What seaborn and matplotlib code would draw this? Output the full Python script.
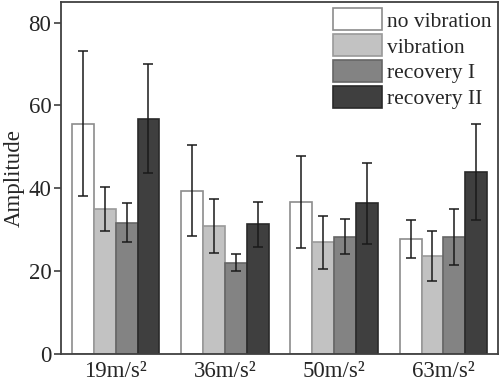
import matplotlib
matplotlib.use("Agg")
import matplotlib.pyplot as plt
import seaborn as sns
import numpy as np
import pandas as pd

accels = ['19m/s²', '36m/s²', '50m/s²', '63m/s²']
conditions = ['no vibration', 'vibration', 'recovery I', 'recovery II']

# mean amplitude per condition, one value per acceleration
no_vib = [55.6, 39.4, 36.6, 27.8]
vib = [35.0, 30.9, 27.0, 23.7]
rec1 = [31.7, 22.1, 28.3, 28.2]
rec2 = [56.8, 31.3, 36.4, 44.0]

# error bar half-lengths
no_vib_err = [17.5, 11.0, 11.1, 4.5]
vib_err = [5.3, 6.6, 6.4, 6.0]
rec1_err = [4.7, 2.0, 4.2, 6.8]
rec2_err = [13.2, 5.5, 9.8, 11.6]

means = [no_vib, vib, rec1, rec2]
errs = [no_vib_err, vib_err, rec1_err, rec2_err]

rows = []
for c, m, e in zip(conditions, means, errs):
    for a, v, s in zip(accels, m, e):
        rows.append({'accel': a, 'cond': c, 'amp': v, 'err': s})
df = pd.DataFrame(rows)

sns.set_style('ticks')
plt.rcParams['font.family'] = 'serif'
plt.rcParams['font.serif'] = ['Liberation Serif', 'Times New Roman', 'DejaVu Serif']

fills = ['#ffffff', '#c2c2c2', '#838383', '#3f3f3f']
edges = ['#8c8c8c', '#9a9a9a', '#666666', '#2a2a2a']

fig = plt.figure(figsize=(5.01, 3.82), dpi=100)
ax = fig.add_axes([0.122, 0.073, 0.872, 0.922])

sns.barplot(data=df, x='accel', y='amp', hue='cond', hue_order=conditions,
            order=accels, palette=fills, errorbar=None, width=0.8,
            saturation=1, ax=ax)

bars = list(ax.containers)
for i, cont in enumerate(bars):
    sub = df[df['cond'] == conditions[i]].set_index('accel').loc[accels]
    xs = [p.get_x() + p.get_width() / 2 for p in cont.patches]
    for p in cont.patches:
        p.set_edgecolor(edges[i])
        p.set_linewidth(1.2)
    ax.errorbar(xs, sub['amp'].values, yerr=sub['err'].values, fmt='none',
                ecolor='#1a1a1a', elinewidth=1.1, capsize=3.3, capthick=1.1)

ax.set_ylim(0, 85)
ax.set_xlim(-0.5, 3.5)
ax.set_yticks([0, 20, 40, 60, 80])
ax.set_xlabel('')
ax.set_ylabel('Amplitude', fontsize=16.5, labelpad=3)
ax.tick_params(axis='y', labelsize=16.5, length=5, width=1.2, color='#404040', pad=2)
ax.tick_params(axis='x', labelsize=16.5, length=0, pad=5)
for s in ax.spines.values():
    s.set_visible(True)
    s.set_color('#404040')
    s.set_linewidth(1.3)

handles, labels = ax.get_legend_handles_labels()
for h, ec in zip(handles, edges):
    h.set_edgecolor(ec)
    h.set_linewidth(1.2)
ax.legend(handles, labels, loc='upper right', frameon=False, fontsize=15.5,
          handlelength=2.25, handleheight=1.2, labelspacing=0.12,
          handletextpad=0.25, borderaxespad=0.1, borderpad=0.2)

fig.savefig('out.png', dpi=100)
